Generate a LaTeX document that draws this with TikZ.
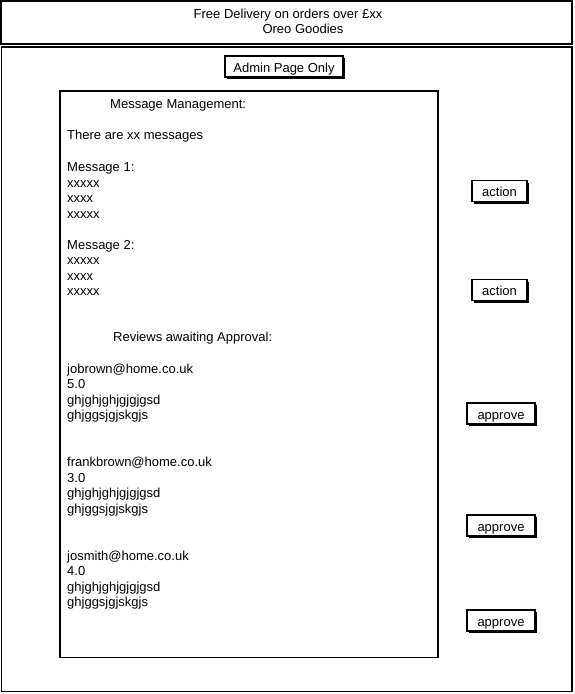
\documentclass[tikz,border=0pt]{standalone}
\usepackage{fontspec}
\setmainfont{Liberation Sans}
\usetikzlibrary{shadows}
\tikzset{
  lbl/.style={anchor=base west,inner sep=0pt,font=\fontsize{13}{15.5}\selectfont},
  ctr/.style={anchor=base,inner sep=0pt,font=\fontsize{13}{15.5}\selectfont},
  btn/.style={draw,fill=white,line width=1.2pt,minimum height=21pt,inner sep=0pt,
    text height=13pt,text depth=2pt,font=\fontsize{13}{15.5}\selectfont,
    general shadow={fill=black,shadow xshift=2pt,shadow yshift=-2pt}},
  frame/.style={line width=1.5pt}
}
\begin{document}
\begin{tikzpicture}[x=1pt,y=-1pt]
\useasboundingbox (0,0) rectangle (574,694);
\draw[frame] (1,1) rectangle (572,44);
\draw[frame] (1.5,47) rectangle (572,691.5);
\draw[frame] (60,91) rectangle (438,657.5);
\node[ctr] (promo) at (288,18) {Free Delivery on orders over £xx};
\node[ctr] (shop) at (303,33.5) {Oreo Goodies};
\node[btn,minimum width=118pt] (admin) at (284,66.5) {Admin Page Only};
\node[lbl] (msghead) at (110,108) {Message Management:};
\node[lbl] (msgcount) at (67,139.5) {There are xx messages};
\foreach \t [count=\i] in {Message 1:,xxxxx,xxxx,xxxxx}
  \node[lbl] (msga\i) at (67,{171.5+15.5*(\i-1)}) {\t};
\foreach \t [count=\i] in {Message 2:,xxxxx,xxxx,xxxxx}
  \node[lbl] (msgb\i) at (67,{249+15.5*(\i-1)}) {\t};
\node[btn,minimum width=55pt] (acta) at (499.5,191) {action};
\node[btn,minimum width=55pt] (actb) at (499.5,290) {action};
\node[lbl] (revhead) at (113,341) {Reviews awaiting Approval:};
\foreach \mail/\rate/\y [count=\k] in {jobrown@home.co.uk/5.0/373,frankbrown@home.co.uk/3.0/466.5,josmith@home.co.uk/4.0/560}{
  \node[lbl] (mail\k) at (67,\y) {\mail};
  \node[lbl] (rate\k) at (67,\y+15.5) {\rate};
  \node[lbl] (texta\k) at (67,\y+31) {ghjghjghjgjgjgsd};
  \node[lbl] (textb\k) at (67,\y+46.5) {ghjggsjgjskgjs};
}
\node[btn,minimum width=68pt] (appra) at (501,413.5) {approve};
\node[btn,minimum width=68pt] (apprb) at (501,525.5) {approve};
\node[btn,minimum width=68pt] (apprc) at (501,620.5) {approve};
\end{tikzpicture}
\end{document}
